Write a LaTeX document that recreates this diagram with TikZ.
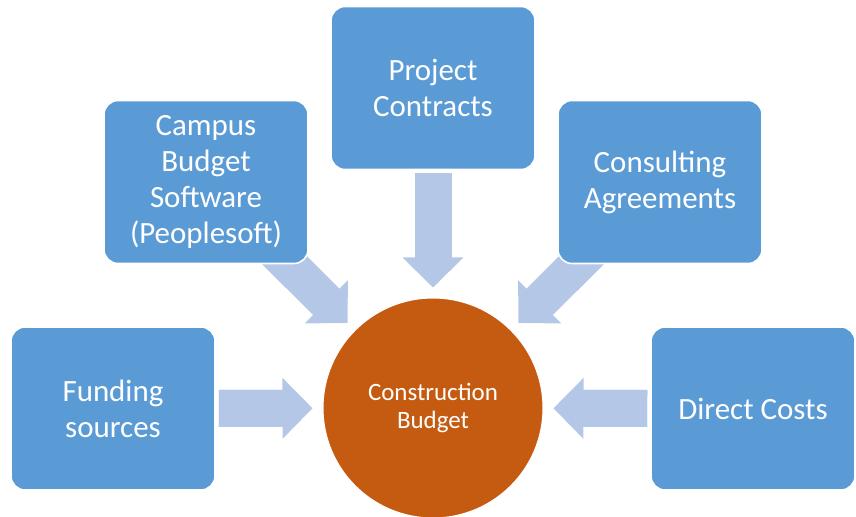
\documentclass[tikz,border=0pt]{standalone}
\usepackage{fontspec}
\setmainfont{Carlito}
\usepackage{xcolor}
\usepackage{tikz}
\usetikzlibrary{arrows.meta, backgrounds}
\definecolor{boxblue}{HTML}{5B9BD5}
\definecolor{feedblue}{HTML}{B4C7E7}
\definecolor{huborange}{HTML}{C55A11}
\tikzstyle{srcbox}=[draw=white, line width=0.9pt, fill=boxblue, rounded corners=0.28cm, minimum width=4.08cm, minimum height=3.26cm, align=center, text=white, font=\fontsize{17.6}{20.5}\selectfont]
\tikzstyle{hub}=[circle, draw=white, line width=0.6pt, fill=huborange, minimum size=4.4cm, inner sep=0pt, align=center, text=white, font=\fontsize{14.2}{16}\selectfont]
\tikzstyle{feed}=[draw=feedblue, line width=0.74cm, -{Triangle[length=0.6cm, width=1.22cm, line width=0pt, fill=feedblue]}, shorten >=0.2cm, postaction={draw=feedblue, -, shorten >=0.74cm}]

\begin{document}
\begin{tikzpicture}
        \useasboundingbox (0,0) rectangle (17.12,-10.34);

        % Budget in the middle
        \node[hub] (budget) at (8.66,-8.16) {Construction\\Budget};

        % Sources around it
        \node[srcbox] (contracts) at (8.66,-1.76) {Project\\Contracts};
        \node[srcbox] (campus) at (4.12,-3.64) {Campus\\Budget\\Software\\(Peoplesoft)};
        \node[srcbox] (consulting) at (13.2,-3.64) {Consulting\\Agreements};
        \node[srcbox] (funding) at (2.26,-8.17) {Funding\\sources};
        \node[srcbox] (direct) at (15.06,-8.17) {Direct Costs};

        % Block arrows into the budget
        \begin{scope}[on background layer]
            \draw[feed, shorten <=0.06cm] (contracts.south) -- (budget);
            \draw[feed] (campus.center) -- (budget);
            \draw[feed] (consulting.center) -- (budget);
            \draw[feed, shorten <=0.06cm] (funding.east) -- (budget);
            \draw[feed, shorten <=0.06cm] (direct.west) -- (budget);
        \end{scope}

    \end{tikzpicture}
\end{document}
